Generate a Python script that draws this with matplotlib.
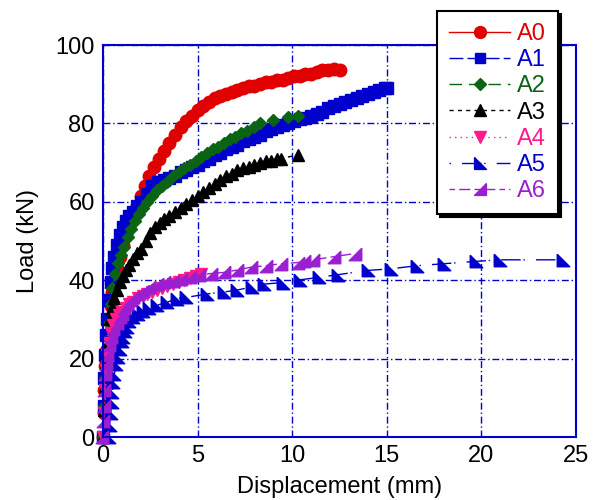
import matplotlib
matplotlib.use("Agg")
import matplotlib.pyplot as plt

plt.rcParams['font.family'] = ['Liberation Sans', 'DejaVu Sans']

# ---------------- data ----------------
labels = ["A0", "A1", "A2", "A3", "A4", "A5", "A6"]

a0_x = [0, 0.03, 0.06, 0.1, 0.15, 0.2, 0.3, 0.4, 0.5, 0.6, 0.75, 0.9, 1.05, 1.2, 1.4, 1.6, 1.8, 2.0, 2.2, 2.45,
        2.7, 2.95, 3.2, 3.5, 3.8, 4.1, 4.4, 4.7, 5.0, 5.3, 5.6, 5.9, 6.2, 6.5, 6.8, 7.1, 7.4, 7.7, 8.0, 8.3,
        8.6, 8.9, 9.2, 9.5, 9.8, 10.1, 10.4, 10.7, 11.0, 11.3, 11.6, 11.9, 12.2, 12.5]
a0_y = [0, 6, 12, 18, 22, 26, 30, 33.5, 37, 40, 43, 46, 49, 51.5, 54, 56.5, 59, 61.5, 64, 66.5,
        69, 71, 73, 75, 77, 79, 80.5, 82, 83.5, 84.5, 85.5, 86.5, 87, 87.5, 88, 88.5, 89, 89.5, 89.5, 90,
        90.5, 90.5, 91, 91, 91.5, 92, 92, 92.5, 92.5, 93, 93.5, 93.5, 94, 93.5]

a1_x = [0, 0.03, 0.06, 0.1, 0.15, 0.2, 0.3, 0.4, 0.5, 0.6, 0.75, 0.9, 1.05, 1.2, 1.4, 1.6, 1.8, 2.0, 2.3, 2.6,
        2.9, 3.2, 3.5, 3.8, 4.1, 4.4, 4.7, 5.0, 5.3, 5.6, 5.9, 6.2, 6.5, 6.8, 7.1, 7.4, 7.7, 8.0, 8.3, 8.6,
        8.9, 9.2, 9.5, 9.8, 10.1, 10.4, 10.7, 11.0, 11.3, 11.6, 11.9, 12.2, 12.5, 12.8, 13.1, 13.4, 13.7, 14.0,
        14.3, 14.6, 14.9, 15.0]
a1_y = [0, 8, 15, 21, 26, 30, 35, 39.5, 43, 46, 49, 51.5, 53.5, 55, 56.5, 57.5, 59, 60, 62, 64,
        65, 65.5, 66, 66.5, 67.5, 68, 69, 69.5, 70.5, 71, 72, 72.5, 73.5, 74, 74.5, 75.5, 76, 76.5, 77, 78,
        78.5, 79, 79.5, 80, 80.5, 81, 81.5, 82, 82.5, 83, 84, 84.5, 85, 85.5, 86, 86.5, 87, 87.5,
        88, 88.5, 89, 89]

a2_x = [0, 0.05, 0.1, 0.2, 0.3, 0.4, 0.5, 0.65, 0.8, 0.95, 1.1, 1.3, 1.5, 1.7, 1.9, 2.1, 2.35, 2.6, 2.85, 3.1,
        3.4, 3.7, 4.0, 4.3, 4.6, 4.9, 5.2, 5.5, 5.8, 6.1, 6.4, 6.7, 7.0, 7.3, 7.6, 8.0, 8.3, 9.0, 9.8, 10.3]
a2_y = [0, 8, 15, 23, 29, 34, 38, 41.5, 44.5, 46.5, 48.5, 51, 53, 55, 57, 58.5, 60, 61.5, 63, 64,
        65, 66.5, 67.5, 68.5, 69.5, 70.5, 71.5, 72.5, 73.5, 74, 75, 76, 76.5, 77.5, 78, 79, 80, 80.8, 81.6, 82]

a3_x = [0, 0.05, 0.1, 0.17, 0.25, 0.35, 0.45, 0.6, 0.75, 0.9, 1.05, 1.2, 1.4, 1.6, 1.8, 2.0, 2.25, 2.5, 2.75, 3.0,
        3.25, 3.5, 3.8, 4.1, 4.4, 4.7, 5.0, 5.3, 5.6, 5.9, 6.2, 6.5, 6.8, 7.1, 7.4, 7.7, 8.0, 8.3, 8.6, 8.9,
        9.2, 9.4, 10.3]
a3_y = [0, 7, 13, 19, 24, 30, 33, 35.5, 37.5, 39.5, 41, 42.5, 44, 45.5, 47, 48, 50, 52, 53.5, 54.5,
        55.5, 56.5, 57.5, 58.5, 59.5, 60.5, 61.5, 62.5, 63.5, 64.5, 65.5, 66.5, 67, 68, 68.5, 69, 69.5, 70, 70.5, 70.5,
        71, 71, 72]

a4_x = [0, 0.05, 0.1, 0.15, 0.2, 0.3, 0.4, 0.55, 0.7, 0.85, 1.0, 1.2, 1.4, 1.6, 1.85, 2.1, 2.35, 2.6, 2.85, 3.1,
        3.4, 3.7, 4.0, 4.3, 4.6, 4.9, 5.2]
a4_y = [0, 6, 12, 17, 21, 24, 26.5, 28.5, 30, 31, 32, 33, 34, 34.5, 35.5, 36, 36.5, 37, 37.5, 38,
        38.5, 39, 39.5, 40, 40.5, 41, 41.5]

a5_x = [0.3, 0.35, 0.4, 0.45, 0.5, 0.55, 0.6, 0.7, 0.8, 0.9, 1.0, 1.06, 1.15, 1.26, 1.4, 1.6, 1.85, 2.1, 2.45, 2.85,
        3.4, 3.9, 4.4, 5.5, 6.4, 7.1, 7.9, 8.5, 9.5, 10.4, 11.4, 12.4, 14.0, 15.2, 16.6, 18.0, 19.7, 21.0, 24.3]
a5_y = [0, 3, 6, 9, 11.5, 14, 16, 18.5, 20.5, 22.5, 24.5, 25.5, 27, 28, 29.5, 30.5, 31.5, 32.2, 33, 33.6,
        34.4, 35.3, 35.6, 36.5, 37, 37.5, 38.3, 39, 39.4, 40.1, 40.7, 41.4, 42.5, 42.9, 43.7, 44.2, 44.8, 45.2, 45.2]

a6_x = [-0.05, 0.0, 0.03, 0.06, 0.1, 0.15, 0.2, 0.3, 0.4, 0.55, 0.74, 0.9, 1.0, 1.13, 1.26, 1.45, 1.6, 1.85, 2.1, 2.45,
        2.85, 3.25, 3.7, 4.1, 4.6, 5.1, 5.7, 6.4, 7.1, 7.8, 8.6, 9.4, 10.3, 10.6, 11.1, 12.2, 13.3]
a6_y = [0, 4, 8, 12, 16, 19, 21, 23.5, 25.5, 27.5, 29, 30.5, 31.4, 33, 34, 35, 35.6, 36.5, 37.3, 38.2,
        39.1, 39.5, 39.9, 40.3, 40.7, 41.3, 41.7, 42, 42.6, 43.3, 43.7, 44.2, 44.5, 44.8, 45.2, 46, 46.8]

x_ticks = [0, 5, 10, 15, 20, 25]
y_ticks = [0, 20, 40, 60, 80, 100]

# ---------------- styles ----------------
tri_ll = [(-1, 1), (-1, -1), (1, -1), (-1, 1)]   # lower-left right triangle
tri_lr = [(1, 1), (1, -1), (-1, -1), (1, 1)]     # lower-right right triangle

styles = [
    dict(color="#E00000", marker="o", ls="-", ms=9),
    dict(color="#0000CC", marker="s", ls=(0, (10, 3)), ms=8),
    dict(color="#0A6414", marker="D", ls=(0, (9, 5)), ms=6.5),
    dict(color="#000000", marker="^", ls=(0, (3, 3)), ms=9),
    dict(color="#FF1A8C", marker="v", ls=(0, (1, 3)), ms=9),
    dict(color="#0000CC", marker=tri_ll, ls=(0, (1, 8, 14, 2)), ms=9),
    dict(color="#9B1FD0", marker=tri_lr, ls=(0, (4, 3, 8, 3)), ms=9),
]
series = [(a0_x, a0_y), (a1_x, a1_y), (a2_x, a2_y), (a3_x, a3_y),
          (a4_x, a4_y), (a5_x, a5_y), (a6_x, a6_y)]

fig = plt.figure(figsize=(5.97, 5.0), dpi=100)
ax = fig.add_axes([103 / 597, 1 - 437 / 500, (576 - 103) / 597, (437 - 45) / 500])

for (xs, ys), st, lab in zip(series, styles, labels):
    ax.plot(xs, ys, color=st["color"], marker=st["marker"], ls=st["ls"], lw=1.0,
            ms=st["ms"], mec=st["color"], mfc=st["color"], label=lab, clip_on=False)

ax.set_xlim(0, 25)
ax.set_ylim(0, 100)
ax.set_xticks(x_ticks)
ax.set_yticks(y_ticks)
ax.tick_params(length=0, labelsize=17, pad=6)
for s in ax.spines.values():
    s.set_color("#0000CC")
    s.set_linewidth(1.5)
ax.grid(True, color="#0000CC", ls=(0, (5, 2, 1, 2)), lw=1.0)
ax.set_axisbelow(True)

ax.set_xlabel("Displacement (mm)", fontsize=17, labelpad=6)
ax.set_ylabel("Load (kN)", fontsize=17, labelpad=12)

leg = fig.legend(loc="upper left", bbox_to_anchor=(437 / 597, 1 - 11 / 500),
                 bbox_transform=fig.transFigure, borderaxespad=0,
                 fontsize=17, handlelength=2.6, handletextpad=0.3, labelspacing=0.18,
                 borderpad=0.5, fancybox=False, framealpha=1, edgecolor="black",
                 labelcolor="linecolor", markerscale=0.95,
                 shadow={"color": "black", "alpha": 1})
leg.get_frame().set_linewidth(1.5)
leg.set_zorder(10)

fig.savefig("out.png", dpi=100)
